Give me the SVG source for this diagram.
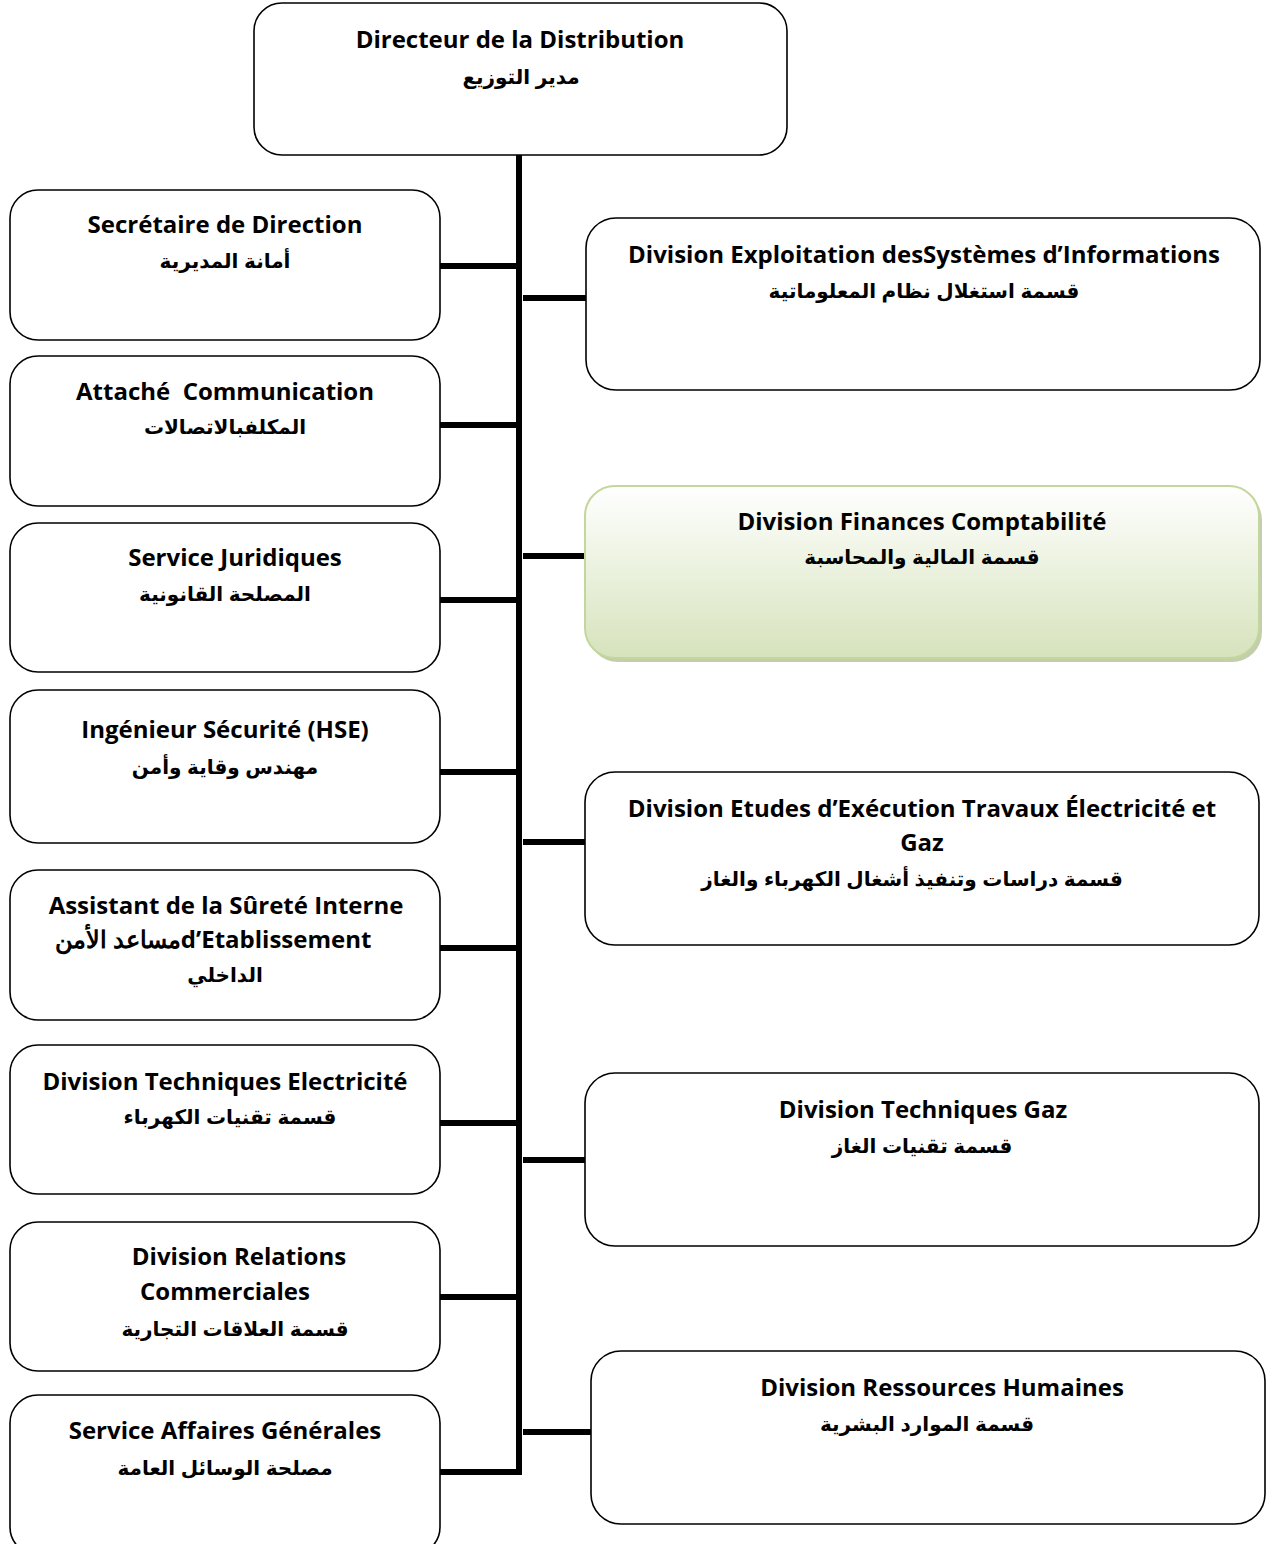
<svg xmlns="http://www.w3.org/2000/svg" width="1272" height="1544" viewBox="0 0 1272 1544">
<style>
.box{fill:#fff;stroke:#000;stroke-width:1.6}
.lat{font-family:"Open Sans","Liberation Sans",Arial,sans-serif;font-weight:bold;font-size:24px;fill:#000;text-anchor:middle}
.ar{font-family:"Liberation Sans","DejaVu Sans",sans-serif;font-weight:bold;font-size:20px;fill:#000;text-anchor:middle}
.cn{stroke:#000;stroke-width:6;fill:none}
</style>
<defs>
<linearGradient id="g" x1="0" y1="0" x2="0" y2="1">
<stop offset="0" stop-color="#ffffff"/>
<stop offset="1" stop-color="#d6e3bc"/>
</linearGradient>
</defs>
<rect width="1272" height="1544" fill="#fff"/>
<g id="connectors">
<line class="cn" x1="519" y1="154" x2="519" y2="1475"/>
<line class="cn" x1="440" y1="266" x2="519" y2="266"/>
<line class="cn" x1="440" y1="425" x2="519" y2="425"/>
<line class="cn" x1="440" y1="600" x2="519" y2="600"/>
<line class="cn" x1="440" y1="772" x2="519" y2="772"/>
<line class="cn" x1="440" y1="948" x2="519" y2="948"/>
<line class="cn" x1="440" y1="1123" x2="519" y2="1123"/>
<line class="cn" x1="440" y1="1297" x2="519" y2="1297"/>
<line class="cn" x1="440" y1="1472" x2="522" y2="1472"/>
<line class="cn" x1="523" y1="298" x2="586" y2="298"/>
<line class="cn" x1="523" y1="556" x2="585" y2="556"/>
<line class="cn" x1="523" y1="842" x2="585" y2="842"/>
<line class="cn" x1="523" y1="1160" x2="585" y2="1160"/>
<line class="cn" x1="523" y1="1432" x2="591" y2="1432"/>
</g>
<g id="n-directeur">
<rect class="box" x="254" y="3" width="533" height="152" rx="28"/>
<text class="lat" x="520" y="48">Directeur de la Distribution</text>
<text class="ar" x="521" y="84">مدير التوزيع</text>
</g>
<g id="n-secretaire">
<rect class="box" x="10" y="190" width="430" height="150" rx="28"/>
<text class="lat" x="225" y="233">Secrétaire de Direction</text>
<text class="ar" x="225" y="268">أمانة المديرية</text>
</g>
<g id="n-attache">
<rect class="box" x="10" y="356" width="430" height="150" rx="28"/>
<text class="lat" x="225" y="400" xml:space="preserve">Attaché  Communication</text>
<text class="ar" x="225" y="434">المكلفبالاتصالات</text>
</g>
<g id="n-juridiques">
<rect class="box" x="10" y="523" width="430" height="149" rx="28"/>
<text class="lat" x="235" y="566">Service Juridiques</text>
<text class="ar" x="225" y="601">المصلحة القانونية</text>
</g>
<g id="n-hse">
<rect class="box" x="10" y="690" width="430" height="153" rx="28"/>
<text class="lat" x="225" y="738">Ingénieur Sécurité (HSE)</text>
<text class="ar" x="225" y="774">مهندس وقاية وأمن</text>
</g>
<g id="n-surete">
<rect class="box" x="10" y="870" width="430" height="150" rx="28"/>
<text class="lat" x="226" y="914">Assistant de la Sûreté Interne</text>
<text class="lat" x="213" y="948" direction="rtl">d’Etablissementمساعد الأمن</text>
<text class="ar" x="225" y="982">الداخلي</text>
</g>
<g id="n-tech-elec">
<rect class="box" x="10" y="1045" width="430" height="149" rx="28"/>
<text class="lat" x="225" y="1090">Division Techniques Electricité</text>
<text class="ar" x="230" y="1124">قسمة تقنيات الكهرباء</text>
</g>
<g id="n-commerciales">
<rect class="box" x="10" y="1222" width="430" height="149" rx="28"/>
<text class="lat" x="239" y="1265">Division Relations</text>
<text class="lat" x="225" y="1300">Commerciales</text>
<text class="ar" x="235" y="1336">قسمة العلاقات التجارية</text>
</g>
<g id="n-affaires">
<rect class="box" x="10" y="1395" width="430" height="160" rx="28"/>
<text class="lat" x="225" y="1439">Service Affaires Générales</text>
<text class="ar" x="225" y="1475">مصلحة الوسائل العامة</text>
</g>
<g id="n-si">
<rect class="box" x="586" y="218" width="674" height="172" rx="30"/>
<text class="lat" x="924" y="263">Division Exploitation desSystèmes d’Informations</text>
<text class="ar" x="924" y="298">قسمة استغلال نظام المعلوماتية</text>
</g>
<g id="n-finances">
<rect x="588" y="490" width="674" height="172" rx="30" fill="#a9b98a" opacity="0.7"/>
<rect x="585" y="486" width="674" height="172" rx="30" fill="url(#g)" stroke="#c3d69b" stroke-width="2"/>
<text class="lat" x="922" y="530">Division Finances Comptabilité</text>
<text class="ar" x="922" y="564">قسمة المالية والمحاسبة</text>
</g>
<g id="n-etudes">
<rect class="box" x="585" y="772" width="674" height="173" rx="30"/>
<text class="lat" x="922" y="817">Division Etudes d’Exécution Travaux Électricité et</text>
<text class="lat" x="922" y="851">Gaz</text>
<text class="ar" x="912" y="886">قسمة دراسات وتنفيذ أشغال الكهرباء والغاز</text>
</g>
<g id="n-tech-gaz">
<rect class="box" x="585" y="1073" width="674" height="173" rx="30"/>
<text class="lat" x="923" y="1118">Division Techniques Gaz</text>
<text class="ar" x="922" y="1153">قسمة تقنيات الغاز</text>
</g>
<g id="n-rh">
<rect class="box" x="591" y="1351" width="674" height="173" rx="30"/>
<text class="lat" x="942" y="1396">Division Ressources Humaines</text>
<text class="ar" x="927" y="1431">قسمة الموارد البشرية</text>
</g>
</svg>
